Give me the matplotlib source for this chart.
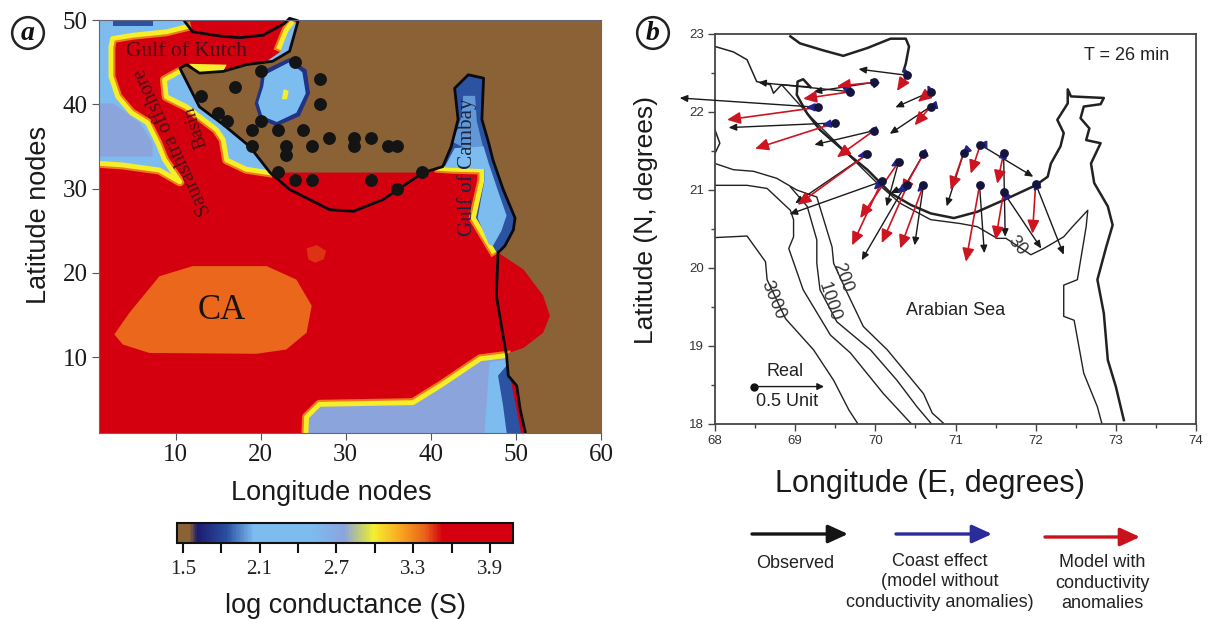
# -*- coding: utf-8 -*-
# two panel figure: conductance map on node grid (a), induction arrows off Saurashtra (b)
import numpy as np
import matplotlib
matplotlib.use('Agg')
import matplotlib.pyplot as plt
from matplotlib.cm import ScalarMappable
from matplotlib.colors import LinearSegmentedColormap, Normalize
from matplotlib.patches import FancyArrowPatch

plt.rcParams['font.family'] = ['Liberation Sans', 'DejaVu Sans']

# ---- panel a: colour scale (log conductance -> colour)
scale_values = [1.455, 1.55, 1.61, 1.84, 2.05, 2.5, 2.76, 2.94, 2.99, 3.2, 3.4, 3.53, 4.08]
scale_colors = ['#8b6236', '#8b6236', '#1c1c70', '#2a4fa0', '#7cbcef', '#7cbcef', '#8ba3de',
                '#d8de50', '#f5f030', '#f8a820', '#e8601a', '#d40010', '#d40010']
cbar_ticks = [1.5, 1.8, 2.1, 2.4, 2.7, 3.0, 3.3, 3.6, 3.9]
cbar_labels = ['1.5', '', '2.1', '', '2.7', '', '3.3', '', '3.9']

# ---- panel a: regions, in grid nodes
land = [(24.4, 53), (64, 53), (64, -2), (51.1, -2), (51.1, 1.1), (50.5, 3.8), (50.1, 6.6), (49.1, 7.8),
        (48.9, 10.4), (50.9, 11.1), (53.2, 12.9), (54.0, 14.9), (53.2, 17.3), (50.9, 20.4), (48.5, 22.0),
        (47.9, 22.4), (48.7, 23.2), (49.7, 25.1), (49.9, 26.5), (48.5, 29.9), (47.3, 33.4), (46.8, 35.4),
        (46.0, 38.2), (46.2, 43.1), (44.4, 43.5), (42.8, 41.9), (43.2, 38.2), (42.4, 35.0), (41.4, 32.6),
        (39.1, 31.9), (21.1, 31.9), (18.7, 35.0), (15.6, 37.7), (12.8, 39.7), (10.5, 43.9), (10.9, 44.7),
        (12.8, 43.7), (15.6, 43.9), (18.3, 44.7), (21.4, 45.1), (23.4, 46.3), (24.4, 49.9)]
west_shelf = [(-2, 53), (11.6, 53), (11.3, 49.2), (8.9, 48.6), (5.0, 48.2), (2.6, 47.8), (2.4, 46.8), (2.4, 43.3),
              (3.2, 40.9), (4.8, 39.0), (6.7, 37.8), (7.9, 35.4), (8.7, 33.4), (10.5, 30.8), (8.1, 32.2),
              (3.8, 32.8), (-2, 33.2)]
west_deep = [(-2, 40.1), (2.7, 40.1), (5.8, 37.8), (7.3, 35.4), (7.3, 33.8), (-2, 33.8)]
west_dark = [(2.6, 53), (7.3, 53), (7.3, 49.3), (2.6, 49.3)]
saurashtra_shelf = [(10.5, 43.9), (8.7, 42.9), (8.9, 40.9), (11.3, 39.7), (14.8, 37.0), (15.6, 35.8), (16.0, 33.4),
                    (18.3, 32.3), (20.9, 31.9), (22.0, 33.0), (18.0, 37.0), (12.0, 42.0)]
kutch_strip = [(22.2, 46.8), (23.0, 48.8), (23.6, 49.6), (25.0, 49.6), (23.8, 46.1), (21.4, 44.9), (20.7, 45.1),
               (22.4, 46.3)]
north_patch = [(11.6, 44.8), (16.0, 44.7), (15.6, 43.9), (12.8, 43.6)]
south_shelf = [(25.2, -2), (25.4, 2.9), (26.9, 4.4), (37.9, 4.6), (41.1, 6.6), (45.8, 9.8), (48.9, 10.2), (49.1, 7.8),
               (51.0, -2)]
south_light = [(46.9, 9.4), (48.9, 9.7), (49.1, 7.8), (50.9, -2), (46.1, -2)]
south_dark = [(47.9, 7.8), (48.9, 9.0), (49.3, 7.8), (51.2, -2), (49.3, -2), (48.5, 4.2)]
cambay = [(41.4, 32.6), (42.4, 35.0), (43.2, 38.2), (42.8, 41.9), (44.4, 43.5), (46.2, 43.1), (46.0, 38.2), (46.8, 35.4),
          (47.3, 33.4), (48.5, 29.9), (49.9, 26.5), (49.7, 25.1), (48.7, 23.2), (47.9, 22.4), (47.3, 22.6), (45.0, 26.5),
          (46.0, 31.0), (46.0, 32.2), (42.5, 32.3), (41.0, 32.4)]
cambay_mid = [(42.6, 35.5), (43.6, 38.5), (43.8, 41.0), (45.2, 41.0), (45.4, 38.0), (46.0, 35.5), (46.5, 33.6)]
cambay_light = [(41.6, 32.5), (42.8, 34.8), (46.2, 35.0), (46.8, 33.0), (47.8, 30.0), (48.9, 26.8), (48.3, 25.0),
                (47.3, 23.2), (46.8, 23.4), (45.5, 26.5), (46.3, 31.0), (46.3, 32.3)]
lagoon = [(20.1, 43.9), (23.4, 45.5), (25.4, 44.1), (25.8, 41.3), (24.6, 38.6), (21.9, 37.4), (19.9, 38.2), (19.3, 40.1),
          (19.9, 42.1)]
lagoon_inner = [(20.5, 43.5), (23.4, 45.0), (24.9, 43.8), (25.3, 41.3), (24.2, 39.0), (21.9, 37.9), (20.2, 38.6),
                (19.7, 40.2), (20.3, 42.1)]
lagoon_spot = [(22.7, 41.8), (23.3, 41.6), (23.1, 40.6), (22.5, 40.6)]
ca_anomaly = [(2.8, 12.7), (4.6, 15.3), (8.1, 19.6), (12.0, 20.8), (20.7, 20.8), (24.2, 19.2), (26.0, 16.1), (25.4, 12.9),
              (23.0, 10.9), (19.5, 10.4), (6.9, 10.5), (3.8, 11.5)]
small_anomaly = [(25.4, 22.9), (26.6, 23.3), (27.7, 22.6), (27.4, 21.6), (26.4, 21.2), (25.6, 21.6)]

coast_north = [(11.1, 49.8), (12.0, 48.6), (15.2, 48.1), (17.5, 47.9), (20.3, 48.2), (22.8, 49.6), (23.4, 50.2),
               (24.4, 49.9), (23.4, 46.3), (21.4, 45.1), (18.3, 44.7), (15.6, 43.9), (12.8, 43.7), (11.3, 44.7),
               (10.5, 44.3), (12.8, 39.7), (15.6, 37.6), (18.7, 35.0), (21.1, 31.9), (23.4, 29.9), (28.1, 27.5),
               (30.9, 27.3), (34.4, 28.7), (39.1, 31.9), (41.4, 32.6), (42.4, 35.0), (43.2, 38.2), (42.8, 41.9),
               (44.4, 43.5), (46.2, 43.1), (46.0, 38.2), (46.8, 35.4), (47.3, 33.4), (48.5, 29.9), (49.9, 26.5),
               (49.7, 25.1), (48.7, 23.2), (47.9, 22.4), (47.7, 17.3), (48.5, 12.5), (48.9, 10.2), (49.1, 7.8),
               (50.1, 6.6), (50.5, 3.8), (51.1, 1.1)]

site_nodes_x = [24, 20, 27, 17, 13, 27, 15, 16, 20, 19, 22, 25, 28, 31, 33, 19, 23, 26, 31, 35, 36, 23, 22, 39, 24, 26, 33, 36]
site_nodes_y = [45, 44, 43, 42, 41, 40, 39, 38, 38, 37, 37, 37, 36, 36, 36, 35, 35, 35, 35, 35, 35, 34, 32, 32, 31, 31, 31, 30]

# ---- panel b: coast and depth lines, lon / lat
thick_north = [(68.94, 22.97), (69.06, 22.88), (69.35, 22.79), (69.60, 22.72), (69.90, 22.82), (70.19, 22.94),
               (70.38, 22.94), (70.42, 22.84), (70.38, 22.62), (70.35, 22.52)]
thick_coast = [(69.19, 22.32), (69.10, 22.42), (69.03, 22.39), (69.02, 22.22), (69.15, 21.98), (69.31, 21.77),
               (69.60, 21.51), (69.90, 21.26), (70.19, 20.96), (70.44, 20.81), (70.69, 20.70), (70.98, 20.64),
               (71.27, 20.72), (71.60, 20.87), (72.00, 21.06), (72.15, 21.17), (72.19, 21.34), (72.31, 21.56),
               (72.35, 21.73), (72.27, 21.90), (72.40, 22.11), (72.40, 22.29), (72.44, 22.20), (72.85, 22.18),
               (72.81, 22.10), (72.60, 22.07), (72.56, 21.92), (72.67, 21.79), (72.63, 21.64), (72.81, 21.60),
               (72.69, 21.34), (72.73, 21.09), (72.90, 20.79), (72.96, 20.55), (72.88, 20.27), (72.77, 19.85),
               (72.85, 19.42), (72.90, 18.82), (73.00, 18.48), (73.10, 18.05)]
west_coast = [(68.00, 22.84), (68.23, 22.77), (68.40, 22.67), (68.52, 22.39), (68.69, 22.35), (68.73, 22.24),
              (68.83, 22.35), (69.19, 22.32)]
west_bit = [(68.00, 21.77), (68.06, 21.60), (68.00, 21.47)]
depth_30 = [(68.83, 22.35), (69.19, 21.94), (69.52, 21.60), (70.02, 21.09), (70.31, 20.83), (70.69, 20.62), (71.06, 20.57),
            (71.27, 20.53), (71.52, 20.38), (71.63, 20.38), (71.94, 20.17), (72.10, 20.25), (72.35, 20.40), (72.46, 20.53),
            (72.65, 20.74), (72.63, 20.53), (72.52, 19.85), (72.35, 19.78), (72.35, 19.38), (72.48, 19.33), (72.60, 18.65),
            (72.77, 18.22), (72.83, 17.99)]
depth_200 = [(68.00, 21.34), (68.23, 21.26), (68.48, 21.24), (68.77, 21.15), (69.02, 21.00), (69.27, 20.91), (69.46, 20.27),
             (69.48, 20.06), (69.65, 19.68), (69.85, 19.25), (70.15, 18.95), (70.60, 18.39), (70.71, 18.14), (70.85, 18.01)]
depth_1000 = [(68.94, 21.04), (69.15, 20.79), (69.27, 20.36), (69.27, 20.06), (69.31, 19.72), (69.52, 19.31), (69.94, 18.95),
              (70.27, 18.56), (70.52, 18.22), (70.71, 17.99)]
depth_2000 = [(68.00, 21.06), (68.40, 21.06), (68.65, 21.02), (68.94, 20.74), (68.98, 20.62), (68.98, 20.40), (68.92, 20.25),
              (69.10, 19.72), (69.44, 19.14), (69.69, 18.91), (70.10, 18.39), (70.46, 17.99)]
depth_3000 = [(68.00, 20.39), (68.40, 20.41), (68.63, 20.08), (68.65, 19.85), (68.88, 19.35), (69.23, 18.95), (69.48, 18.56),
              (69.67, 18.18), (69.79, 17.99)]
depth_labels = ['3000', '1000', '200', '30']
depth_label_lon = [68.73, 69.42, 69.59, 71.77]
depth_label_lat = [19.59, 19.57, 19.87, 20.29]
depth_label_rot = [-68, -72, -70, -50]

# ---- panel b: stations and arrow tips
station_lon = [70.40, 69.98, 69.69, 70.69, 70.69, 69.29, 69.50, 69.98, 69.90, 70.08,
               70.29, 70.60, 70.40, 70.60, 71.10, 71.31, 71.60, 71.30, 71.60, 72.00]
station_lat = [22.47, 22.38, 22.26, 22.26, 22.07, 22.06, 21.86, 21.76, 21.46, 21.11,
               21.36, 21.46, 21.06, 21.06, 21.47, 21.58, 21.47, 21.06, 20.97, 21.08]
observed_lon = [69.79, 69.23, 68.54, 70.25, 70.18, 67.56, 68.17, 69.24, 69.00, 68.93,
                70.14, 69.83, 70.19, 70.49, 70.89, 71.97, 71.62, 71.36, 72.07, 72.35]
observed_lat = [22.55, 22.26, 22.38, 22.06, 21.72, 22.18, 21.80, 21.58, 20.83, 20.69,
                20.79, 20.10, 20.96, 20.29, 20.79, 21.17, 20.40, 20.19, 20.25, 20.17]
model_lon = [70.27, 69.52, 69.10, 70.53, 70.49, 68.15, 68.50, 69.52, 69.03, 69.71,
             69.81, 70.33, 70.08, 70.31, 70.94, 71.19, 71.52, 71.13, 71.50, 71.96]
model_lat = [22.27, 22.33, 22.17, 22.13, 21.83, 21.90, 21.53, 21.42, 20.81, 20.29,
             20.64, 20.96, 20.32, 20.25, 21.00, 21.21, 21.08, 20.08, 20.36, 20.44]
coast_lon = [70.35, 69.93, 69.58, 70.65, 70.65, 69.13, 69.33, 69.90, 69.77, 69.98,
             70.19, 70.53, 70.27, 70.52, 71.08, 71.27, 71.61, 71.30, 71.58, 71.98]
coast_lat = [22.57, 22.43, 22.32, 22.35, 22.06, 22.06, 21.83, 21.75, 21.43, 21.00,
             21.30, 21.43, 20.96, 20.97, 21.45, 21.58, 21.53, 21.06, 21.00, 21.13]

W, H = 1208, 619
fig = plt.figure(figsize=(W / 100, H / 100), dpi=100)

cond_norm = Normalize(scale_values[0], scale_values[-1])
cond_cmap = LinearSegmentedColormap.from_list(
    'cond', [(cond_norm(v), c) for v, c in zip(scale_values, scale_colors)])


def region(ax, pts, value, rim=None, z=2):
    # rim = (first, last) index of the outline part that has the yellow/orange band
    xy = np.array(pts)
    ax.fill(xy[:, 0], xy[:, 1], fc=cond_cmap(cond_norm(value)), ec='none', zorder=z + 0.1)
    if rim is not None:
        part = xy[rim[0]:rim[1] + 1]
        ax.plot(part[:, 0], part[:, 1], color='#f07a18', lw=6.5, solid_joinstyle='round', zorder=z)
        ax.plot(part[:, 0], part[:, 1], color='#f5ee28', lw=3.5, solid_joinstyle='round', zorder=z + 0.2)


# ---- panel a
ax = fig.add_axes([99 / W, 1 - 433 / H, 502 / W, 413 / H])
ax.set_xlim(1, 60)
ax.set_ylim(1, 50)
ax.set_facecolor(cond_cmap(cond_norm(3.9)))

region(ax, ca_anomaly, 3.38)
region(ax, small_anomaly, 3.46)
region(ax, west_shelf, 2.3, rim=(2, 16), z=3)
region(ax, west_deep, 2.76, z=3.5)
region(ax, west_dark, 1.85, z=3.5)
region(ax, saurashtra_shelf, 2.3, rim=(0, 8), z=3)
region(ax, north_patch, 3.0, z=3.5)
region(ax, kutch_strip, 2.3, rim=(0, 2), z=3)
region(ax, south_shelf, 2.76, rim=(0, 6), z=3)
region(ax, south_light, 2.3, z=3.5)
region(ax, south_dark, 1.85, z=3.6)
region(ax, cambay, 1.85, rim=(14, 19), z=3)
region(ax, cambay_mid, 1.98, z=3.5)
region(ax, cambay_light, 2.3, z=3.6)
region(ax, land, 1.5, z=4)
region(ax, lagoon, 1.72, z=4.5)
region(ax, lagoon_inner, 2.3, z=4.6)
region(ax, lagoon_spot, 3.0, z=4.7)

coast_a = np.array(coast_north)
ax.plot(coast_a[:, 0], coast_a[:, 1], color='#0a0a10', lw=2, clip_on=False, zorder=6)
ax.scatter(site_nodes_x, site_nodes_y, s=68, color='#141414', zorder=7, clip_on=False)

ax.text(11.3, 46.3, 'Gulf of Kutch', family='Liberation Serif', fontsize=15.5, color='#4a1014',
        ha='center', va='center', zorder=8)
ax.text(9.7, 35.6, 'Saurashtra offshore', family='Liberation Serif', fontsize=14.8, color='#4a1014',
        rotation=115, ha='center', va='center', rotation_mode='anchor', zorder=8)
ax.text(12.4, 37.3, 'Basin', family='Liberation Serif', fontsize=13.6, color='#4a1014',
        rotation=108, ha='center', va='center', rotation_mode='anchor', zorder=8)
ax.text(44.2, 32.5, 'Gulf of Cambay', family='Liberation Serif', fontsize=15.2, color='#1c2440',
        rotation=90, ha='center', va='center', zorder=8)
ax.text(15.4, 15.5, 'CA', family='Liberation Serif', fontsize=25, color='#1a1208',
        ha='center', va='center', zorder=8)

ax.set_xticks([10, 20, 30, 40, 50, 60])
ax.set_yticks([10, 20, 30, 40, 50])
ax.tick_params(direction='out', length=5, width=0.8, color='#556', labelsize=18, labelcolor='#1a1a1a', pad=3)
for lab in ax.get_xticklabels() + ax.get_yticklabels():
    lab.set_family('Liberation Serif')
for sp in ax.spines.values():
    sp.set_color('#667')
    sp.set_linewidth(0.8)
    sp.set_zorder(9)
ax.set_xlabel('Longitude nodes', fontsize=19.5, color='#1a1a1a', labelpad=10, x=0.462)
ax.set_ylabel('Latitude nodes', fontsize=19.5, color='#1a1a1a', labelpad=8, y=0.527)

# colour bar
cax = fig.add_axes([177 / W, 1 - 543 / H, 336 / W, 20 / H])
cb = fig.colorbar(ScalarMappable(norm=cond_norm, cmap=cond_cmap), cax=cax, orientation='horizontal')
cb.set_ticks(cbar_ticks)
cb.set_ticklabels(cbar_labels)
cb.ax.tick_params(length=7, width=1.5, color='#111', labelsize=15, labelcolor='#222', pad=5)
for lab in cb.ax.get_xticklabels():
    lab.set_family('Liberation Serif')
cb.outline.set_linewidth(1.5)
cb.outline.set_edgecolor('#111')
cb.set_label('log conductance (S)', fontsize=19.5, color='#1a1a1a', labelpad=10)

# ---- panel b
bx = fig.add_axes([715 / W, 1 - 424 / H, 481 / W, 390 / H])
bx.set_xlim(68, 74)
bx.set_ylim(18, 23)

for line, lw in [(thick_north, 1.8), (thick_coast, 1.8), (west_coast, 1.1), (west_bit, 1.1), (depth_30, 1.0),
                 (depth_200, 1.0), (depth_1000, 1.0), (depth_2000, 1.0), (depth_3000, 1.0)]:
    arr = np.array(line)
    bx.plot(arr[:, 0], arr[:, 1], color='#222', lw=lw, zorder=2)

for lab, lo, la, rot in zip(depth_labels, depth_label_lon, depth_label_lat, depth_label_rot):
    bx.text(lo, la, lab, fontsize=13, color='#333', rotation=rot, ha='center', va='center',
            rotation_mode='anchor', zorder=3)


def arrow(ax_, start, tip, color, lw, head, z):
    ax_.annotate('', xy=tip, xytext=start, annotation_clip=False, zorder=z,
                 arrowprops=dict(arrowstyle='-|>,head_length=%g,head_width=%g' % (head, head * 0.45),
                                 color=color, lw=lw, shrinkA=0, shrinkB=0))


for i in range(len(station_lon)):
    start = (station_lon[i], station_lat[i])
    arrow(bx, start, (observed_lon[i], observed_lat[i]), '#1a1a1a', 1.0, 0.45, 4)
    arrow(bx, start, (model_lon[i], model_lat[i]), '#cc1520', 1.2, 0.8, 5)
    arrow(bx, start, (coast_lon[i], coast_lat[i]), '#22248c', 1.4, 0.5, 6)
bx.scatter(station_lon, station_lat, s=28, color='#14143c', zorder=7)

bx.text(72.6, 22.72, 'T = 26 min', fontsize=13, color='#222', va='center', ha='left')
bx.text(71.0, 19.46, 'Arabian Sea', fontsize=13, color='#222', va='center', ha='center')

# scale arrow
bx.annotate('', xy=(69.36, 18.48), xytext=(68.49, 18.48),
            arrowprops=dict(arrowstyle='-|>,head_length=0.4,head_width=0.2', color='#1a1a1a', lw=1,
                            shrinkA=0, shrinkB=0))
bx.plot([68.49], [18.48], 'o', color='#111', ms=5)
bx.text(68.88, 18.67, 'Real', fontsize=13, color='#222', ha='center', va='center')
bx.text(68.9, 18.29, '0.5 Unit', fontsize=13, color='#222', ha='center', va='center')

bx.set_xticks([68, 69, 70, 71, 72, 73, 74])
bx.set_yticks([18, 19, 20, 21, 22, 23])
bx.set_xticks(np.arange(68.5, 74, 1), minor=True)
bx.set_yticks(np.arange(18.5, 23, 1), minor=True)
bx.tick_params(which='major', direction='out', length=5, width=1, color='#444', labelsize=9.5,
               labelcolor='#333', pad=3)
bx.tick_params(which='minor', direction='out', length=3, width=1, color='#444')
for sp in bx.spines.values():
    sp.set_color('#444')
    sp.set_linewidth(1.3)
bx.set_xlabel('Longitude (E, degrees)', fontsize=22, color='#1a1a1a', labelpad=16, x=0.447)
bx.set_ylabel('Latitude (N, degrees)', fontsize=19, color='#1a1a1a', labelpad=22, y=0.523)

# ---- legend under panel b
for x0, x1, y, col in [(752, 848, 534, '#151515'), (896, 992, 534, '#2a2c9a'), (1045, 1140, 537, '#c8121e')]:
    fig.add_artist(FancyArrowPatch((x0 / W, 1 - y / H), (x1 / W, 1 - y / H), transform=fig.transFigure,
                                   arrowstyle='-|>,head_length=12,head_width=5.5', color=col, lw=2.4,
                                   shrinkA=0, shrinkB=0))
fig.text(795 / W, 1 - 563 / H, 'Observed', fontsize=13, color='#222', ha='center', va='center')
fig.text(940 / W, 1 - 582 / H, 'Coast effect\n(model without\nconductivity anomalies)', fontsize=13, color='#222',
         ha='center', va='center', linespacing=1.25)
fig.text(1102 / W, 1 - 583 / H, 'Model with\nconductivity\nanomalies', fontsize=13, color='#222',
         ha='center', va='center', linespacing=1.25)

# ---- panel letters
for x, y, s in [(28, 33, 'a'), (653, 33, 'b')]:
    fig.text(x / W, 1 - y / H, s, family='Liberation Serif', style='italic', weight='bold', fontsize=20,
             color='#111', ha='center', va='center',
             bbox=dict(boxstyle='circle,pad=0.12', fc='white', ec='#222', lw=1.8))

fig.savefig('out.png', dpi=100)
